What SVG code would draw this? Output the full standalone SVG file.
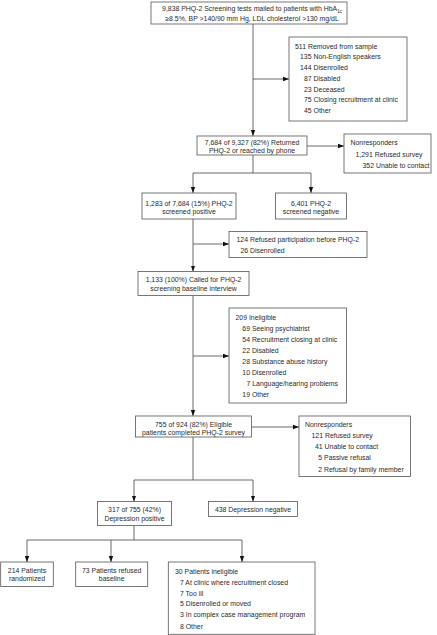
<svg xmlns="http://www.w3.org/2000/svg" width="437" height="635" viewBox="0 0 437 635">
<style>
.b{fill:#fff;stroke:#555;stroke-width:0.8}
text{font-family:"Liberation Sans",Arial,sans-serif;font-size:6.9px;fill:#2a2a2a}
.c{text-anchor:middle}
.l{stroke:#444;stroke-width:0.8;fill:none}
</style>
<defs>
<marker id="a" markerUnits="userSpaceOnUse" markerWidth="6" markerHeight="6" viewBox="0 0 6 6" refX="6" refY="3" orient="auto">
<path d="M0,0.8 L6,3 L0,5.2 Z" fill="#111"/>
</marker>
</defs>
<rect width="437" height="635" fill="#fff"/>
<g id="connectors">
<line class="l" x1="253" y1="24" x2="253" y2="136" marker-end="url(#a)"/>
<line class="l" x1="253" y1="79" x2="289" y2="79" marker-end="url(#a)"/>
<line class="l" x1="307" y1="146" x2="344" y2="146" marker-end="url(#a)"/>
<polyline class="l" points="253,155 253,173"/>
<polyline class="l" points="193,173 311,173"/>
<line class="l" x1="193" y1="173" x2="193" y2="193" marker-end="url(#a)"/>
<line class="l" x1="311" y1="173" x2="311" y2="193" marker-end="url(#a)"/>
<line class="l" x1="193" y1="219" x2="193" y2="271.5" marker-end="url(#a)"/>
<line class="l" x1="193" y1="244" x2="229" y2="244" marker-end="url(#a)"/>
<line class="l" x1="193" y1="296" x2="193" y2="416" marker-end="url(#a)"/>
<line class="l" x1="193" y1="356" x2="229" y2="356" marker-end="url(#a)"/>
<line class="l" x1="252" y1="427" x2="299" y2="427" marker-end="url(#a)"/>
<polyline class="l" points="193,437 193,480"/>
<polyline class="l" points="134,480 253,480"/>
<line class="l" x1="134" y1="480" x2="134" y2="501.5" marker-end="url(#a)"/>
<line class="l" x1="253" y1="480" x2="253" y2="501.5" marker-end="url(#a)"/>
<polyline class="l" points="134,526 134,540"/>
<polyline class="l" points="27,540 242,540"/>
<line class="l" x1="27" y1="540" x2="27" y2="562" marker-end="url(#a)"/>
<line class="l" x1="111" y1="540" x2="111" y2="562" marker-end="url(#a)"/>
<line class="l" x1="242" y1="540" x2="242" y2="562" marker-end="url(#a)"/>
</g>
<g id="n1">
<rect class="b" x="151" y="2" width="196" height="22"/>
<text class="c" x="252" y="11">9,838 PHQ-2 Screening tests mailed to patients with HbA<tspan font-size="4.5" dy="1.5">1c</tspan></text>
<text class="c" x="252" y="20.5">≥8.5%, BP &gt;140/90 mm Hg, LDL cholesterol &gt;130 mg/dL</text>
</g>
<g id="n2">
<rect class="b" x="289" y="37" width="118" height="84"/>
<text x="295" y="48.5">511 Removed from sample</text>
<text x="300" y="59">135 Non-English speakers</text>
<text x="300" y="70">144 Disenrolled</text>
<text x="304" y="80.5">87 Disabled</text>
<text x="304" y="91.5">23 Deceased</text>
<text x="304" y="102">75 Closing recruitment at clinic</text>
<text x="304" y="113">45 Other</text>
</g>
<g id="n3">
<rect class="b" x="197" y="136" width="110" height="19"/>
<text class="c" x="252" y="144.5">7,684 of 9,327 (82%) Returned</text>
<text class="c" x="252" y="152.5">PHQ-2 or reached by phone</text>
</g>
<g id="n4">
<rect class="b" x="344" y="134" width="87" height="39"/>
<text x="350.5" y="144.5">Nonresponders</text>
<text x="355.5" y="156.5">1,291 Refused survey</text>
<text x="362.5" y="167.5">352 Unable to contact</text>
</g>
<g id="n5">
<rect class="b" x="142" y="193" width="94" height="26"/>
<text class="c" x="189" y="205.5">1,283 of 7,684 (15%) PHQ-2</text>
<text class="c" x="189" y="214">screened positive</text>
</g>
<g id="n6">
<rect class="b" x="275.5" y="193" width="71" height="26"/>
<text class="c" x="311" y="205.5">6,401 PHQ-2</text>
<text class="c" x="311" y="214">screened negative</text>
</g>
<g id="n7">
<rect class="b" x="229" y="231.5" width="138" height="26"/>
<text x="236.5" y="241.5">124 Refused participation before PHQ-2</text>
<text x="240.5" y="253">26 Disenrolled</text>
</g>
<g id="n8">
<rect class="b" x="138" y="271.5" width="111" height="24"/>
<text class="c" x="193.5" y="282.3">1,133 (100%) Called for PHQ-2</text>
<text class="c" x="193.5" y="290.6">screening baseline interview</text>
</g>
<g id="n9">
<rect class="b" x="229" y="308" width="117.5" height="95"/>
<text x="235.5" y="319.5">209 Ineligible</text>
<text x="242.3" y="330.5">69 Seeing psychiatrist</text>
<text x="242.3" y="341.5">54 Recruitment closing at clinic</text>
<text x="242.3" y="353">22 Disabled</text>
<text x="242.3" y="364">28 Substance abuse history</text>
<text x="242.3" y="375">10 Disenrolled</text>
<text x="246.5" y="386.2">7 Language/hearing problems</text>
<text x="242.3" y="397">19 Other</text>
</g>
<g id="n10">
<rect class="b" x="135.5" y="416" width="116" height="21"/>
<text class="c" x="193.5" y="427.3">755 of 924 (82%) Eligible</text>
<text class="c" x="193.5" y="434.6">patients completed PHQ-2 survey</text>
</g>
<g id="n11">
<rect class="b" x="299" y="416" width="111.5" height="60.5"/>
<text x="305" y="427">Nonresponders</text>
<text x="311.5" y="438.3">121 Refused survey</text>
<text x="315" y="449">41 Unable to contact</text>
<text x="318.3" y="459.6">5 Passive refusal</text>
<text x="318.3" y="471.6">2 Refusal by family member</text>
</g>
<g id="n12">
<rect class="b" x="97.5" y="501.5" width="74" height="24"/>
<text class="c" x="134.5" y="512.3">317 of 755 (42%)</text>
<text class="c" x="134.5" y="520.6">Depression positive</text>
</g>
<g id="n13">
<rect class="b" x="208.5" y="501.5" width="89" height="15"/>
<text class="c" x="253" y="511.6">438 Depression negative</text>
</g>
<g id="n14">
<rect class="b" x="0.7" y="562" width="52.6" height="24.5"/>
<text class="c" x="27" y="573">214 Patients</text>
<text class="c" x="27" y="580.6">randomized</text>
</g>
<g id="n15">
<rect class="b" x="75.7" y="562" width="72" height="24.5"/>
<text class="c" x="111.7" y="573">73 Patients refused</text>
<text class="c" x="111.7" y="580.6">baseline</text>
</g>
<g id="n16">
<rect class="b" x="168.3" y="562" width="146.7" height="72.3"/>
<text x="175" y="574">30 Patients ineligible</text>
<text x="180" y="584.6">7 At clinic where recruitment closed</text>
<text x="180" y="595.6">7 Too ill</text>
<text x="180" y="606.3">5 Disenrolled or moved</text>
<text x="180" y="617.3">3 In complex case management program</text>
<text x="180" y="628.6">8 Other</text>
</g>
</svg>
